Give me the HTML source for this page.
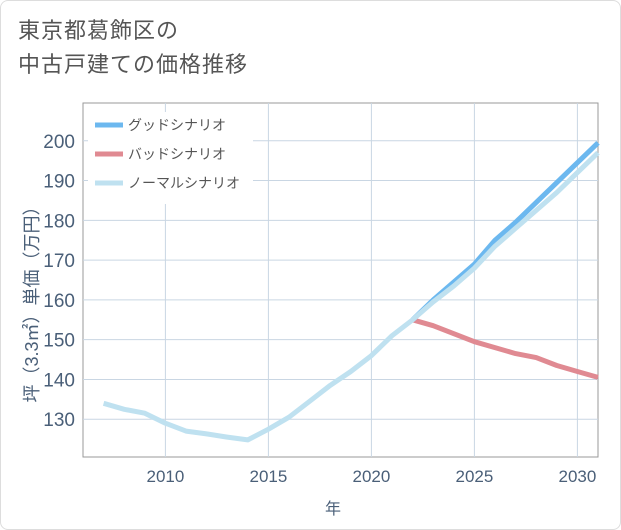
<!DOCTYPE html>
<html><head><meta charset="utf-8"><style>
body{margin:0;background:#fff;}
#wrap{position:relative;width:621px;height:530px;font-family:"Liberation Sans","Noto Sans CJK JP",sans-serif;}
#frame{position:absolute;left:0;top:0;width:619px;height:528px;border:1px solid #ddd;border-radius:8px;}
#title{position:absolute;left:18px;top:14px;font-size:22px;line-height:34px;color:#555;letter-spacing:1px;}
</style></head><body>
<div id="wrap">
<div id="frame"></div>
<div id="title">東京都葛飾区の<br>中古戸建ての価格推移</div>
<svg id="svg" width="621" height="530" style="position:absolute;left:0;top:0"></svg>
</div>
<script>
const years=[2007,2008,2009,2010,2011,2012,2013,2014,2015,2016,2017,2018,2019,2020,2021,2022,2023,2024,2025,2026,2027,2028,2029,2030,2031];
const normal=[134,132.5,131.5,129,127,126.3,125.5,124.8,127.5,130.5,134.5,138.5,142,146,151,155,159.5,163.5,168,173.5,178,182.5,187,192,197];
const goodFuture=[155,160,164.5,169,175,179.5,184.5,189.5,194.5,199.5];
const badFuture=[155,153.5,151.5,149.5,148,146.5,145.5,143.5,142,140.5];
const futureYears=[2022,2023,2024,2025,2026,2027,2028,2029,2030,2031];
const yTicks=[130,140,150,160,170,180,190,200];
const xTicks=[2010,2015,2020,2025,2030];
const L=83,R=598,T=103,B=457;
const x=v=>L+(v-2006)*(R-L)/(2031-2006);
const y=v=>B-(v-120.5)*(B-T)/(209.5-120.5);
const ns="http://www.w3.org/2000/svg",svg=document.getElementById('svg');
function mk(tag,attrs,parent){const e=document.createElementNS(ns,tag);for(const k in attrs)e.setAttribute(k,attrs[k]);(parent||svg).appendChild(e);return e;}
let e;
e=mk('rect',{x:L,y:T,width:R-L,height:B-T,fill:'none',stroke:'#999','stroke-width':1});


yTicks.forEach(t=>{
 e=mk('line',{x1:L,x2:R,y1:y(t),y2:y(t),stroke:'#c9d6e3'});
 
 
 e=mk('text',{x:L-8,y:y(t)+7,'text-anchor':'end','font-size':19,fill:'#4a5f78'});e.textContent=t;
 
 
});
xTicks.forEach(t=>{
 e=mk('line',{x1:x(t),x2:x(t),y1:T,y2:B,stroke:'#c9d6e3'});
 
 
 e=mk('text',{x:x(t),y:B+25,'text-anchor':'middle','font-size':17,fill:'#4a5f78'});e.textContent=t;
 
 
});
e=mk('text',{x:333,y:514,'text-anchor':'middle','font-size':16,fill:'#4a5f78'});e.textContent='年';


e=mk('text',{x:0,y:0,transform:'translate(38,300) rotate(-90)','text-anchor':'middle','font-size':18,fill:'#4a5f78'});e.textContent='坪（3.3㎡）単価（万円）';


function path(xs,ys){return xs.map((v,i)=>(i?'L':'M')+x(v).toFixed(1)+','+y(ys[i]).toFixed(1)).join(' ');}
e=mk('path',{d:path(futureYears,badFuture),fill:'none',stroke:'#e08a92','stroke-width':5,'stroke-linejoin':'round'});


e=mk('path',{d:path(futureYears,goodFuture),fill:'none',stroke:'#6cb8ef','stroke-width':5,'stroke-linejoin':'round'});


e=mk('path',{d:path(years,normal),fill:'none',stroke:'#bfe1f0','stroke-width':5,'stroke-linejoin':'round'});


e=mk('rect',{x:L+5,y:T+9,width:165,height:92,fill:'#fff'});


[['グッドシナリオ','#6cb8ef'],['バッドシナリオ','#e08a92'],['ノーマルシナリオ','#bfe1f0']].forEach((l,i)=>{
 const yy=T+22+i*29;
 e=mk('line',{x1:95,x2:123,y1:yy,y2:yy,stroke:l[1],'stroke-width':5});
 
 
 e=mk('text',{x:128,y:yy+5,'font-size':14,fill:'#555'});e.textContent=l[0];
 
 
});
</script>
</body></html>
